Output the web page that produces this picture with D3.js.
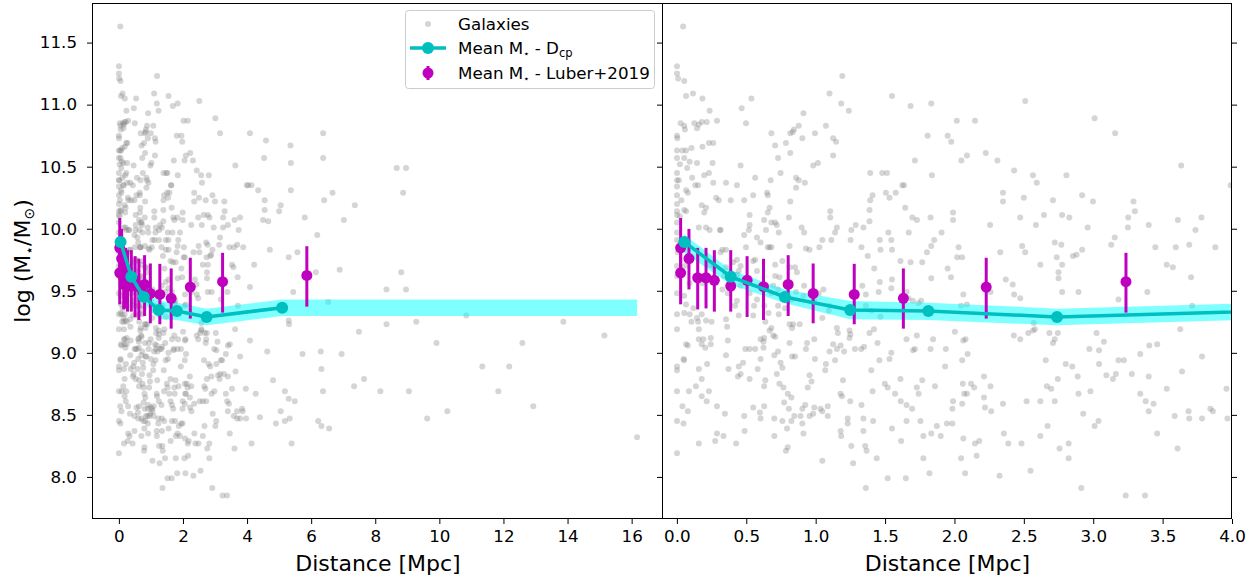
<!DOCTYPE html>
<html><head><meta charset="utf-8">
<script src="https://cdn.jsdelivr.net/npm/d3@7"></script>
<style>
body{margin:0;background:#fff}
svg{display:block}
text{font-family:"DejaVu Sans",sans-serif;fill:#000}
</style>
</head><body>
<svg id="chart" width="1260" height="579"></svg>
<script>
// Galaxy sample: [distance (Mpc), log stellar mass]
const galaxies = [
[0.045,11.63],[0.001,11.31],[0.001,11.25],[0.009,11.21],[0.053,11.19],[1.192,11.23],[0.066,11.07],[0.116,11.09],[0.184,11.05],[0.537,11.05],[1.10,11.09],[1.55,11.07],[1.184,11.01],[1.239,10.95],[1.684,10.99],[1.833,11.01],[2.51,11.03],[0.467,10.97],[0.236,10.95],[3.01,10.89],[0.912,10.93],
[0.027,10.85],[0.053,10.83],[0.126,10.85],[0.158,10.84],[0.179,10.86],[0.215,10.86],[0.289,10.87],[0.498,10.85],[0.145,10.81],[0.878,10.83],[0.844,10.80],[2.017,10.87],[2.148,10.87],[3.158,10.77],[0.001,10.75],[0.003,10.73],[0.058,10.80],[0.681,10.77],[0.817,10.77],[0.835,10.78],[0.904,10.73],[0.995,10.77],[1.074,10.83],[1.807,10.75],[1.951,10.75],[1.126,10.73],[1.147,10.70],[1.977,10.70],[0.231,10.69],[0.262,10.69],[0.708,10.67],[0.786,10.69],[0.001,10.63],[0.04,10.63],[0.066,10.63],[0.105,10.65],[0.184,10.66],[1.126,10.59],[2.226,10.61],[2.09,10.59],[0.817,10.61],[0.729,10.57],[0.001,10.57],[0.053,10.57],[0.092,10.54],[0.145,10.53],[0.257,10.53],[0.022,10.52],[0.074,10.49],[0.459,10.51],[1.016,10.53],[0.982,10.51],[1.715,10.55],[2.05,10.55],[2.31,10.55],[3.634,10.51],[1.393,10.45],[1.48,10.45],[1.514,10.45],[2.43,10.47],[2.807,10.43],[0.001,10.45],[0.001,10.39],[0.11,10.41],[0.132,10.35],[0.153,10.35],[0.231,10.45],[0.197,10.43],[0.564,10.41],[0.747,10.45],[0.859,10.41],[0.878,10.39],[0.922,10.37],[1.838,10.43],[2.566,10.43],[2.593,10.37],[0.676,10.39],[0.262,10.37],[0.354,10.37],[0.433,10.35],[1.624,10.35],[0.859,10.33],[3.99,10.35],[0.066,10.31],[0.079,10.29],[0.65,10.29],[0.655,10.27],[0.817,10.22],[0.55,10.27],[0.283,10.25],[0.388,10.23],[0.485,10.23],[0.302,10.23],[0.001,10.27],[0.032,10.23],[1.393,10.23],[1.41,10.27],[1.506,10.29],[1.532,10.25],[1.577,10.29],[1.637,10.35],[2.35,10.29],[2.35,10.22],[2.50,10.25],[2.71,10.23],[2.92,10.27],[2.998,10.22],[3.29,10.22],
[0.001,10.20],[0.066,10.14],[0.053,10.15],[0.179,10.19],[0.21,10.17],[0.197,10.13],[0.001,10.14],[0.022,10.10],[0.524,10.11],[0.668,10.17],[0.655,10.13],[0.629,10.07],[0.708,10.05],[0.807,10.09],[1.105,10.14],[1.105,10.09],[1.388,10.15],[1.388,10.06],[1.645,10.17],[1.697,10.09],[1.73,10.07],[1.828,10.09],[1.99,10.13],[1.99,10.07],[2.474,10.09],[2.645,10.11],[2.776,10.11],[2.828,10.09],[2.587,10.03],[3.252,10.09],[3.30,10.14],[3.61,10.07],[3.78,10.09],[2.96,10.01],[2.257,10.03],[3.25,10.01],[3.40,10.03],[3.737,9.99],
[0.158,10.01],[0.21,10.01],[0.315,9.99],[0.236,9.99],[0.485,9.95],[0.519,9.99],[0.524,10.03],[0.642,9.99],[0.681,10.05],[0.72,10.03],[0.734,9.97],[0.577,9.93],[0.603,9.89],[0.681,9.85],[0.668,9.85],[0.812,9.86],[0.899,10.01],[0.917,9.97],[1.153,10.01],[1.14,9.97],[1.257,9.99],[1.289,10.03],[1.344,10.01],[1.524,9.97],[1.545,9.91],[1.671,9.97],[1.907,9.97],[1.854,9.91],[1.833,9.86],[1.252,9.91],[1.113,9.91],[1.048,9.91],[1.027,9.85],[0.956,9.83],[0.93,9.84],[1.33,9.85],[1.467,9.83],[1.55,9.83],[1.375,9.78],[1.802,9.81],[1.611,9.74],[1.684,9.73],[1.768,9.73],[1.833,9.60],[2.03,9.85],[2.02,9.77],[2.056,9.77],[2.33,9.81],[2.488,9.86],[2.51,9.81],[2.723,9.89],[2.77,9.87],[2.737,9.77],[2.854,9.78],[2.88,9.79],[2.92,9.83],[3.13,9.87],[3.155,9.93],[3.448,9.85],[3.595,9.85],[3.692,9.87],[3.88,9.85],[2.619,9.71],[2.75,9.65],[2.776,9.71],[2.75,9.60],[3.53,9.71],[3.574,9.69],[3.705,9.61],[3.39,9.49],[3.182,9.43],[2.776,9.49],[2.894,9.49],[2.43,9.47],[2.474,9.44],[2.26,9.49],[2.42,9.55],[2.37,9.59],[2.064,9.47],[2.09,9.39],[2.048,9.38],[1.951,9.68],[1.975,9.61],[1.76,9.42],[1.74,9.40],[1.70,9.42],[1.655,9.49],[1.668,9.44],[1.545,9.52],[1.55,9.59],[1.462,9.57],[1.454,9.49],[1.422,9.68],[1.462,9.91],[1.336,9.54],[1.362,9.47],[1.362,9.38],[1.401,9.34],[1.467,9.29],[1.10,9.38],[1.095,9.34],[1.048,9.28],[1.056,9.51],[1.022,9.48],[0.99,9.42],[0.859,9.49],[0.825,9.43],[0.912,9.46],[0.812,9.69],[0.851,9.69],[0.739,9.61],[0.729,9.51],[0.681,9.48],[0.694,9.54],[0.708,9.71],[0.76,9.74],[0.564,9.75],[0.577,9.66],[0.498,9.85],[0.524,9.48],[0.556,9.38],[0.577,9.43],[0.433,9.42],[0.459,9.70],[0.446,9.66],[0.433,9.63],[0.406,9.73],[0.354,9.69],[0.328,9.83],[0.354,9.83],[0.31,9.99],[0.367,9.48],[0.42,9.38],[0.446,9.30],[0.55,9.30],[0.63,9.38],[0.66,9.32],[0.637,9.25],[0.681,9.20],[0.668,9.18],[0.694,9.14],[0.629,9.12],[0.624,9.09],[0.729,9.38],[0.734,9.31],[0.812,9.23],[0.838,9.23],[0.885,9.23],[0.78,9.36],[0.708,9.13],
[0.001,9.48],[0.001,9.31],[0.001,9.19],[0.053,9.46],[0.066,9.39],[0.053,9.32],[0.092,9.31],[0.119,9.36],[0.105,9.25],[0.145,9.28],[0.158,9.19],[0.153,9.25],[0.179,9.31],[0.21,9.26],[0.25,9.25],[0.19,9.11],[0.158,9.11],[0.179,9.07],[0.205,9.04],[0.244,9.12],[0.244,9.07],[0.066,9.07],[0.079,9.06],[0.001,8.89],[0.001,8.86],[0.048,8.95],[0.052,8.94],[0.087,8.69],[0.001,8.69],[0.137,8.73],[0.158,8.87],[0.179,8.79],[0.218,8.91],[0.231,8.69],[0.215,8.61],[0.179,8.65],[0.289,8.57],[0.04,8.57],[0.079,8.53],[0.001,8.45],[0.048,8.43],[0.158,8.27],[0.276,8.29],[0.289,8.35],[0.336,8.33],[0.001,8.19],[0.354,8.98],[0.372,8.87],[0.362,9.21],[0.354,9.27],[0.367,9.10],[0.446,8.89],[0.44,8.81],[0.524,8.79],[0.459,8.83],[0.493,9.03],[0.524,9.03],[0.564,9.03],[0.477,8.92],[0.582,8.87],[0.603,8.95],[0.603,9.11],[0.624,9.04],[0.637,8.78],[0.629,8.73],[0.485,8.49],[0.55,8.56],[0.603,8.47],[0.598,8.52],[0.629,8.57],[0.488,8.37],[0.427,8.27],[0.346,8.51],[0.702,8.47],[0.76,8.45],[0.702,8.33],[0.72,8.83],[0.747,8.92],[0.76,8.88],[0.729,9.01],[0.702,8.98],[0.739,8.75],[0.768,8.72],[0.799,8.67],[0.825,8.64],[0.794,8.39],[0.799,8.24],[0.786,8.21],[0.825,8.45],[0.846,8.49],[0.891,8.49],[0.904,8.43],[0.912,8.35],[0.773,8.60],[0.807,8.55],[0.83,8.97],[0.851,8.97],[0.812,9.08],[0.83,9.20],[0.93,9.03],[0.938,9.08],[0.956,8.82],[0.97,8.77],[0.943,8.72],[0.904,8.55],[0.925,8.58],[0.956,8.49],[0.982,8.51],[0.99,8.56],[1.035,8.55],[1.087,8.57],[1.048,8.53],[0.995,8.95],[0.99,9.11],[1.074,8.91],[1.10,9.01],[1.14,8.94],[1.153,9.03],[1.18,9.06],[1.205,9.01],[1.126,9.07],[1.16,9.16],[1.153,9.20],[1.244,9.18],[1.25,9.15],[1.244,9.12],[1.069,8.86],[1.197,8.78],[1.179,8.67],[1.19,8.65],[1.087,8.49],[1.18,8.37],[1.184,8.33],[1.231,8.47],[1.231,8.43],[1.249,8.61],[1.048,8.13],[1.257,8.25],[1.27,8.11],[1.33,8.58],[1.344,8.47],[1.344,8.37],[1.357,8.25],[1.367,8.21],[1.41,8.69],[1.401,8.86],[1.283,9.03],[1.328,9.03],[1.349,9.05],[1.446,9.08],[1.459,8.94],[1.388,9.16],[1.42,9.19],[1.414,8.45],[1.44,8.15],[1.362,7.91],[1.498,8.75],[1.519,8.72],[1.545,9.0],[1.532,8.95],[1.611,8.79],[1.572,8.67],[1.613,8.61],[1.655,8.58],[1.695,8.55],[1.55,8.39],[1.616,8.29],[1.519,7.99],[1.65,7.99],[1.729,8.72],[1.768,8.78],[1.742,8.67],[1.655,8.45],[1.755,8.45],[1.702,9.02],[1.715,9.03],[1.655,9.11],[1.729,9.14],[1.828,9.03],[1.846,9.11],[1.86,8.73],[1.873,8.41],[1.833,8.35],[1.776,8.33],[1.776,8.15],[1.82,8.03],[1.901,8.33],[1.946,8.43],[1.985,8.43],[1.938,9.03],[2.003,9.17],[2.064,9.10],[2.08,9.11],[2.095,8.99],[1.933,8.89],[2.056,8.94],[1.99,8.61],[1.985,8.55],[2.06,8.75],[2.07,8.67],[2.09,8.67],[2.12,8.75],[2.056,8.59],[2.142,8.72],[2.213,8.81],[2.213,8.64],[2.22,8.56],[2.26,8.73],[2.265,8.53],[2.064,8.31],[2.148,8.27],[2.179,8.29],[2.048,8.15],[2.077,8.03],[2.16,8.17],[2.325,8.01],[2.35,8.59],[2.356,8.35],[2.388,8.27],[2.483,8.27],[2.428,9.14],[2.474,9.11],[2.532,9.16],[2.566,9.18],[2.52,8.61],[2.548,8.05],[2.619,8.61],[2.619,8.33],[2.658,8.94],[2.666,8.73],[2.71,9.08],[2.723,9.11],[2.697,8.71],[2.745,9.16],[2.723,8.61],[2.671,8.41],[2.745,8.79],[2.802,8.91],[2.849,8.89],[2.888,8.81],[2.894,8.67],[2.928,8.51],[2.757,8.23],[2.823,8.27],[2.823,8.15],[2.914,7.91],[2.972,9.03],[2.98,8.69],[3.024,9.16],[3.042,9.02],[3.042,8.91],[3.077,9.09],[3.095,8.82],[3.163,8.83],[3.142,8.79],[3.182,8.94],[3.221,8.94],[3.01,8.41],[3.038,8.45],[3.234,7.85],[3.373,7.85],[3.278,8.83],[3.339,8.99],[3.404,9.06],[3.339,8.67],[3.378,8.61],[3.435,8.59],[3.4,8.81],[3.4,8.53],[3.461,9.07],[3.461,8.35],[3.53,8.71],[3.587,8.49],[3.608,8.23],[3.627,9.19],[3.64,8.85],[3.687,8.53],[3.692,8.47],[3.784,8.97],[3.784,8.47],[3.844,8.55],[3.862,8.53],[3.96,8.71],[3.967,8.47],[3.713,9.38],[2.572,9.24],[2.58,9.19],[2.684,9.16],
[0.001,9.97],[0.001,9.91],[0.006,9.81],[0.001,9.70],[0.001,9.62],[0.053,9.85],[0.058,9.70],[0.092,9.56],[0.184,9.56],[0.236,9.71],[0.262,9.70],[0.315,9.81],[0.341,9.62],[0.328,9.51],[0.433,9.75],[0.459,9.54],[0.55,9.74],[0.524,9.60],[0.655,9.85],[0.708,9.62],[0.865,9.65],[0.917,9.54],[0.001,10.11],[0.001,10.05],[0.014,10.39],[0.001,10.34],
[4.09,10.77],[4.59,10.71],[5.355,10.67],[6.374,10.77],[4.53,10.57],[5.366,10.53],[6.374,10.57],[4.034,10.35],[4.138,10.35],[4.346,10.31],[5.366,10.31],[6.666,10.29],[7.362,10.19],[4.55,10.23],[4.55,10.15],[5.0,10.14],[5.05,10.19],[5.80,10.09],[7.02,10.07],[6.405,10.23],[4.50,10.07],[4.66,10.06],[4.71,9.83],[5.57,9.81],[5.30,9.77],[6.19,9.95],[6.89,9.67],[6.146,9.65],[4.09,9.53],[4.22,9.71],[5.44,9.49],[6.53,9.41],[8.35,9.51],[7.49,9.17],[8.35,9.23],[5.30,9.26],[5.31,9.23],[4.09,9.10],[4.63,9.01],[4.81,8.78],[5.73,8.99],[6.30,9.01],[6.95,8.99],[6.32,8.87],[7.34,8.73],[7.65,8.79],[8.16,8.69],[6.37,8.69],[5.18,8.69],[5.49,8.61],[5.30,8.63],[5.05,8.53],[4.90,8.43],[5.18,8.45],[5.33,8.47],[6.22,8.45],[6.32,8.41],[6.56,8.39],[5.39,8.27],[4.14,8.27],[4.27,8.67],[4.40,8.48],
[8.67,10.49],[8.96,10.49],[8.87,10.29],[8.96,9.51],[8.81,9.65],[9.28,9.25],[9.05,8.69],[9.91,9.08],[9.62,8.47],[10.25,8.53],[10.84,9.30],[11.34,8.89],[11.84,8.69],[12.18,8.89],[12.59,9.08],[12.93,8.57],[13.87,9.25],[15.15,9.14],[16.17,8.32]
];

// Mean stellar mass binned by D_cp
const dcpDist = [0.053, 0.388, 0.778, 1.249, 1.812, 2.739, 5.095];
const dcpMass = [9.894, 9.613, 9.450, 9.345, 9.337, 9.289, 9.364];

// Uncertainty band around the D_cp mean (last entry carries it to the farthest galaxy)
const bandDist = [0.053, 0.388, 0.778, 1.249, 1.812, 2.739, 5.095, 16.17];
const bandLow  = [9.806, 9.551, 9.399, 9.270, 9.265, 9.222, 9.297, 9.297];
const bandHigh = [9.953, 9.667, 9.511, 9.417, 9.404, 9.356, 9.430, 9.430];

// Mean stellar mass from Luber+2019 with error bars
const luberDist = [0.027, 0.027, 0.087, 0.150, 0.210, 0.270, 0.388, 0.506, 0.624, 0.802, 0.982, 1.278, 1.632, 2.229, 3.236, 5.865];
const luberMass = [9.846, 9.645, 9.760, 9.605, 9.605, 9.584, 9.538, 9.584, 9.533, 9.551, 9.479, 9.471, 9.439, 9.530, 9.573, 9.624];
const luberLow  = [9.620, 9.391, 9.511, 9.350, 9.358, 9.332, 9.332, 9.289, 9.265, 9.297, 9.238, 9.230, 9.195, 9.276, 9.324, 9.372];
const luberHigh = [10.087, 9.870, 9.999, 9.846, 9.846, 9.827, 9.827, 9.779, 9.758, 9.787, 9.720, 9.717, 9.680, 9.766, 9.806, 9.859];

// Tick values
const yTicks = [8.0, 8.5, 9.0, 9.5, 10.0, 10.5, 11.0, 11.5];
const leftXTicks = [0, 2, 4, 6, 8, 10, 12, 14, 16];
const rightXTicks = [0.0, 0.5, 1.0, 1.5, 2.0, 2.5, 3.0, 3.5, 4.0];
const rightXRange = [-0.1, 4.0];

const svg = d3.select("#chart");
const plotTop = 3, plotBottom = 519;
const leftPanel = {x0: 93, x1: 663};
const rightPanel = {x0: 663, x1: 1232};

const distances = galaxies.map(d => d[0]);
const masses = galaxies.map(d => d[1]);
function padded(ext) { const s = ext[1] - ext[0]; return [ext[0] - 0.05 * s, ext[1] + 0.05 * s]; }

const y = d3.scaleLinear().domain(padded(d3.extent(masses))).range([plotBottom, plotTop]);
const xLeft = d3.scaleLinear().domain(padded(d3.extent(distances))).range([leftPanel.x0, leftPanel.x1]);
const xRight = d3.scaleLinear().domain(rightXRange).range([rightPanel.x0, rightPanel.x1]);

const CYAN = "#00bfbf", BAND = "#00ffff", MAG = "#bf00bf";
const FS = 16.7;

function drawPanel(id, x, panel) {
  svg.append("clipPath").attr("id", id).append("rect")
    .attr("x", panel.x0).attr("y", plotTop).attr("width", panel.x1 - panel.x0).attr("height", plotBottom - plotTop);
  const g = svg.append("g").attr("clip-path", `url(#${id})`);

  g.append("g").selectAll("circle").data(galaxies).join("circle")
    .attr("cx", d => x(d[0])).attr("cy", d => y(d[1])).attr("r", 3)
    .attr("fill", "#808080").attr("fill-opacity", 0.33);

  const band = d3.area().x((d, i) => x(bandDist[i])).y0((d, i) => y(bandLow[i])).y1((d, i) => y(bandHigh[i]));
  g.append("path").datum(bandDist).attr("d", band).attr("fill", BAND).attr("fill-opacity", 0.5);

  const lu = g.append("g");
  luberDist.forEach((d, i) => {
    lu.append("line").attr("x1", x(d)).attr("x2", x(d))
      .attr("y1", y(luberLow[i])).attr("y2", y(luberHigh[i]))
      .attr("stroke", MAG).attr("stroke-width", 3);
  });
  luberDist.forEach((d, i) => {
    lu.append("circle").attr("cx", x(d)).attr("cy", y(luberMass[i])).attr("r", 5.5).attr("fill", MAG);
  });

  const line = d3.line().x((d, i) => x(dcpDist[i])).y((d, i) => y(dcpMass[i]));
  g.append("path").datum(dcpDist).attr("d", line).attr("fill", "none")
    .attr("stroke", CYAN).attr("stroke-width", 3.5).attr("stroke-linejoin", "round");
  g.append("g").selectAll("circle").data(dcpDist).join("circle")
    .attr("cx", d => x(d)).attr("cy", (d, i) => y(dcpMass[i])).attr("r", 6).attr("fill", CYAN);

  // frame (the shared middle spine is drawn once, on the same pixel column)
  svg.append("rect").attr("x", panel.x0 - 0.5).attr("y", plotTop + 0.5)
    .attr("width", panel.x1 - panel.x0).attr("height", plotBottom - plotTop - 1)
    .attr("fill", "none").attr("stroke", "#000").attr("stroke-width", 1);
}

drawPanel("clipL", xLeft, leftPanel);
drawPanel("clipR", xRight, rightPanel);

// x axes
function xAxis(x, ticks, fmt) {
  const g = svg.append("g").attr("transform", `translate(0,${plotBottom})`);
  const ax = d3.axisBottom(x).tickValues(ticks).tickFormat(fmt).tickSize(5).tickPadding(5);
  g.call(ax);
  g.select(".domain").remove();
  g.selectAll("line").attr("stroke", "#000").attr("stroke-width", 1);
  g.selectAll("text").attr("font-size", FS).attr("font-family", "DejaVu Sans").attr("dy", "0.75em");
}
xAxis(xLeft, leftXTicks, d3.format("d"));
xAxis(xRight, rightXTicks, d3.format(".1f"));

// y axes: labelled on the left panel, tick marks on both spines of the right panel
const yl = svg.append("g").attr("transform", `translate(${leftPanel.x0 - 1},0)`);
yl.call(d3.axisLeft(y).tickValues(yTicks).tickFormat(d3.format(".1f")).tickSize(5).tickPadding(10));
yl.select(".domain").remove();
yl.selectAll("line").attr("stroke", "#000");
yl.selectAll("text").attr("font-size", FS).attr("font-family", "DejaVu Sans");

const yr1 = svg.append("g").attr("transform", `translate(${rightPanel.x0 - 1},0)`);
yr1.call(d3.axisLeft(y).tickValues(yTicks).tickFormat("").tickSize(5));
yr1.select(".domain").remove();
const yr2 = svg.append("g").attr("transform", `translate(${rightPanel.x1},0)`);
yr2.call(d3.axisRight(y).tickValues(yTicks).tickFormat("").tickSize(5));
yr2.select(".domain").remove();

// axis titles
function xTitle(cx) {
  svg.append("text").attr("x", cx).attr("y", 571).attr("text-anchor", "middle")
    .attr("font-size", 22).text("Distance [Mpc]");
}
xTitle((leftPanel.x0 + leftPanel.x1) / 2);
xTitle((rightPanel.x0 + rightPanel.x1) / 2);

const yt = svg.append("text").attr("transform", `translate(30,${(plotTop + plotBottom) / 2}) rotate(-90)`)
  .attr("text-anchor", "middle").attr("font-size", 22);
yt.append("tspan").text("log (M");
yt.append("tspan").attr("font-size", 14).attr("dy", 4).text("⋆");
yt.append("tspan").attr("dy", -4).text("/M");
yt.append("tspan").attr("font-size", 14).attr("dy", 4).text("⊙");
yt.append("tspan").attr("dy", -4).text(")");

// legend
const lg = svg.append("g");
lg.append("rect").attr("x", 405.5).attr("y", 10.5).attr("width", 249).attr("height", 78).attr("rx", 3)
  .attr("fill", "#fff").attr("fill-opacity", 0.8).attr("stroke", "#cccccc");
const rowY = [24, 48, 73];
const symX = 428, textX = 458;
lg.append("circle").attr("cx", symX).attr("cy", rowY[0]).attr("r", 3).attr("fill", "#808080").attr("fill-opacity", 0.33);
lg.append("line").attr("x1", 410).attr("x2", 446).attr("y1", rowY[1]).attr("y2", rowY[1])
  .attr("stroke", CYAN).attr("stroke-width", 3.5);
lg.append("circle").attr("cx", symX).attr("cy", rowY[1]).attr("r", 6).attr("fill", CYAN);
lg.append("line").attr("x1", symX).attr("x2", symX).attr("y1", rowY[2] - 7).attr("y2", rowY[2] + 7)
  .attr("stroke", MAG).attr("stroke-width", 3);
lg.append("circle").attr("cx", symX).attr("cy", rowY[2]).attr("r", 5.5).attr("fill", MAG);

lg.append("text").attr("x", textX).attr("y", rowY[0] + 6).attr("font-size", FS).text("Galaxies");
const t2 = lg.append("text").attr("x", textX).attr("y", rowY[1] + 6).attr("font-size", FS);
t2.append("tspan").text("Mean M");
t2.append("tspan").attr("font-size", 10).attr("dy", 3).text("⋆");
t2.append("tspan").attr("dy", -3).text(" - D");
t2.append("tspan").attr("font-size", 11.5).attr("dy", 3).text("cp");
const t3 = lg.append("text").attr("x", textX).attr("y", rowY[2] + 6).attr("font-size", FS);
t3.append("tspan").text("Mean M");
t3.append("tspan").attr("font-size", 10).attr("dy", 3).text("⋆");
t3.append("tspan").attr("dy", -3).text(" - Luber+2019");
</script>
</body></html>
